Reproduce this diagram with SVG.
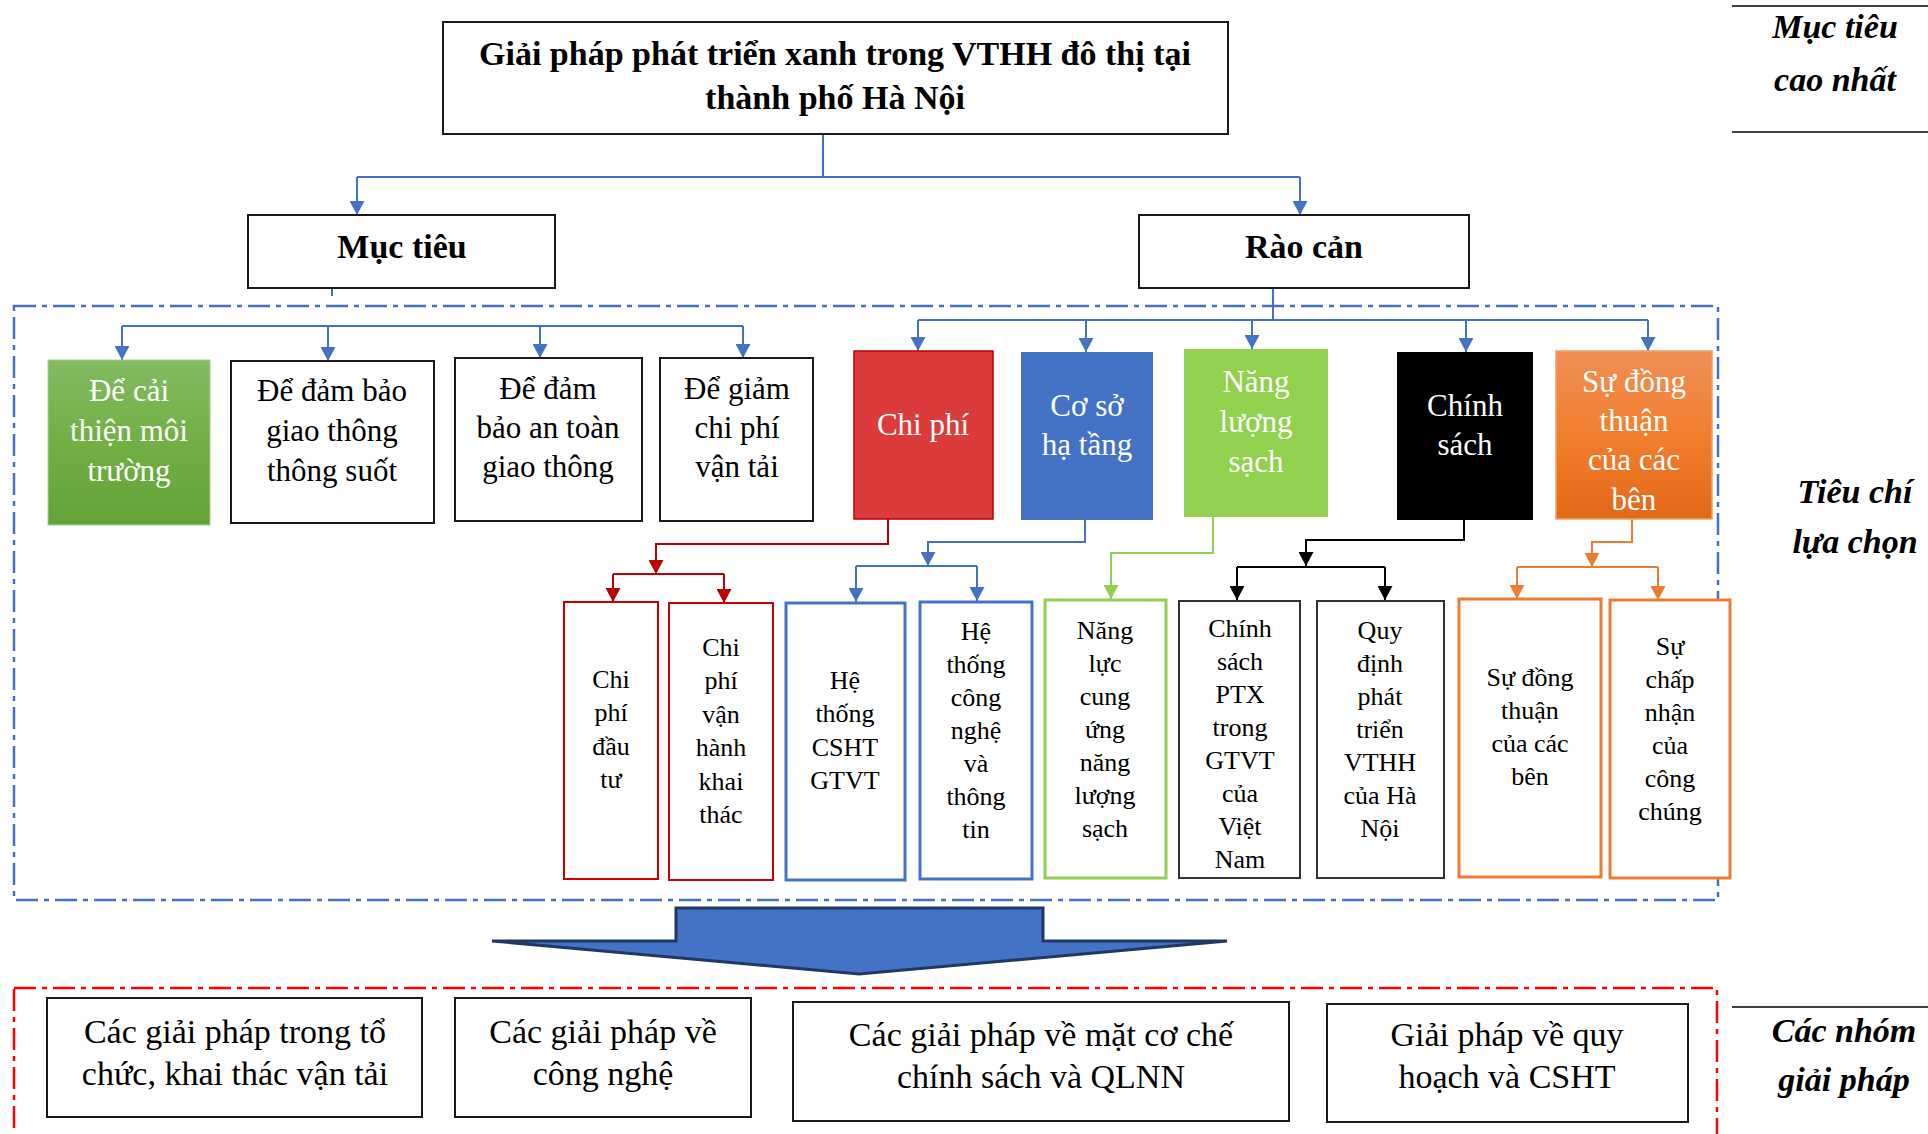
<svg xmlns="http://www.w3.org/2000/svg" width="1928" height="1134" viewBox="0 0 1928 1134">
<defs>
<style>
text{font-family:"Liberation Serif","Times New Roman",serif;text-anchor:middle;fill:#000}
.t34b{font-size:34px;font-weight:bold}
.lab{font-size:34px;font-weight:bold;font-style:italic}
.t31{font-size:31px}
.t26{font-size:26px}
.t34{font-size:34px}
.w{fill:#fff}
.box{fill:#fff;stroke:#1a1a1a;stroke-width:2}
.bb{fill:#fff;stroke:#4472C4;stroke-width:3}
.rb{fill:#fff;stroke:#CC0000;stroke-width:2}
.gb{fill:#fff;stroke:#92D050;stroke-width:3}
.kb{fill:#fff;stroke:#333;stroke-width:2}
.ob{fill:#fff;stroke:#ED7D31;stroke-width:3}
.c{fill:none;stroke-width:2}
.cB{stroke:#4472C4}
.cR{stroke:#C00000}
.cG{stroke:#92D050}
.cK{stroke:#000}
.cO{stroke:#ED7D31}
.rule{stroke:#000;stroke-width:1.5}
</style>
<linearGradient id="grG" x1="0" y1="0" x2="0" y2="1"><stop offset="0" stop-color="#82BB61"/><stop offset="0.5" stop-color="#72AF45"/><stop offset="1" stop-color="#63A337"/></linearGradient>
<linearGradient id="grO" x1="0" y1="0" x2="0" y2="1"><stop offset="0" stop-color="#F08F56"/><stop offset="0.5" stop-color="#F27F2E"/><stop offset="1" stop-color="#E2691A"/></linearGradient>
<marker id="aB" viewBox="0 0 14 15" refX="14" refY="7.5" markerWidth="14" markerHeight="15" markerUnits="userSpaceOnUse" orient="auto"><path d="M0,0 L14,7.5 L0,15 z" fill="#4472C4"/></marker>
<marker id="aR" viewBox="0 0 14 15" refX="14" refY="7.5" markerWidth="14" markerHeight="15" markerUnits="userSpaceOnUse" orient="auto"><path d="M0,0 L14,7.5 L0,15 z" fill="#C00000"/></marker>
<marker id="aG" viewBox="0 0 14 15" refX="14" refY="7.5" markerWidth="14" markerHeight="15" markerUnits="userSpaceOnUse" orient="auto"><path d="M0,0 L14,7.5 L0,15 z" fill="#92D050"/></marker>
<marker id="aK" viewBox="0 0 14 15" refX="14" refY="7.5" markerWidth="14" markerHeight="15" markerUnits="userSpaceOnUse" orient="auto"><path d="M0,0 L14,7.5 L0,15 z" fill="#000"/></marker>
<marker id="aO" viewBox="0 0 14 15" refX="14" refY="7.5" markerWidth="14" markerHeight="15" markerUnits="userSpaceOnUse" orient="auto"><path d="M0,0 L14,7.5 L0,15 z" fill="#ED7D31"/></marker>
</defs>
<rect x="0" y="0" width="1928" height="1134" fill="#fff"/>

<!-- region borders -->
<rect id="region-criteria" x="14" y="306" width="1704" height="594" fill="none" stroke="#4472C4" stroke-width="2.5" stroke-dasharray="22 6 5 6"/>
<rect id="region-solutions" x="14" y="988" width="1703" height="200" fill="none" stroke="#FF0000" stroke-width="2.5" stroke-dasharray="22 6 5 6"/>

<!-- side labels -->
<g id="side-labels">
<line class="rule" x1="1732" y1="6" x2="1928" y2="6"/>
<line class="rule" x1="1732" y1="132" x2="1928" y2="132"/>
<text class="lab" x="1835" y="38">Mục tiêu</text>
<text class="lab" x="1835" y="91">cao nhất</text>
<text class="lab" x="1855" y="503">Tiêu chí</text>
<text class="lab" x="1855" y="553">lựa chọn</text>
<line class="rule" x1="1732" y1="1007" x2="1928" y2="1007"/>
<text class="lab" x="1844" y="1042">Các nhóm</text>
<text class="lab" x="1844" y="1091">giải pháp</text>
</g>

<!-- connectors -->
<g id="connectors">
<path class="c cB" d="M823,134 V177 M357,177 H1300"/>
<path class="c cB" d="M357,177 V215" marker-end="url(#aB)"/>
<path class="c cB" d="M1300,177 V215" marker-end="url(#aB)"/>
<path class="c cB" d="M332,288 V296 M122,326 H743"/>
<path class="c cB" d="M122,326 V360" marker-end="url(#aB)"/>
<path class="c cB" d="M328,326 V361" marker-end="url(#aB)"/>
<path class="c cB" d="M540,326 V358" marker-end="url(#aB)"/>
<path class="c cB" d="M743,326 V358" marker-end="url(#aB)"/>
<path class="c cB" d="M1273,288 V320 M918,320 H1648"/>
<path class="c cB" d="M918,320 V351" marker-end="url(#aB)"/>
<path class="c cB" d="M1086,320 V352" marker-end="url(#aB)"/>
<path class="c cB" d="M1252,320 V349" marker-end="url(#aB)"/>
<path class="c cB" d="M1466,320 V352" marker-end="url(#aB)"/>
<path class="c cB" d="M1648,320 V351" marker-end="url(#aB)"/>
<path class="c cR" d="M888,519 V544 H656 V574" marker-end="url(#aR)"/>
<path class="c cR" d="M613,574 H724"/>
<path class="c cR" d="M613,574 V602" marker-end="url(#aR)"/>
<path class="c cR" d="M724,574 V603" marker-end="url(#aR)"/>
<path class="c cB" d="M1085,520 V542 H928 V566" marker-end="url(#aB)"/>
<path class="c cB" d="M856,566 H977"/>
<path class="c cB" d="M856,566 V602" marker-end="url(#aB)"/>
<path class="c cB" d="M977,566 V601" marker-end="url(#aB)"/>
<path class="c cG" d="M1213,517 V553 H1111 V599" marker-end="url(#aG)"/>
<path class="c cK" d="M1464,520 V540 H1306 V566" marker-end="url(#aK)"/>
<path class="c cK" d="M1237,567 H1385"/>
<path class="c cK" d="M1237,567 V600" marker-end="url(#aK)"/>
<path class="c cK" d="M1385,567 V600" marker-end="url(#aK)"/>
<path class="c cO" d="M1632,519 V542 H1592 V567" marker-end="url(#aO)"/>
<path class="c cO" d="M1517,567 H1658"/>
<path class="c cO" d="M1517,567 V599" marker-end="url(#aO)"/>
<path class="c cO" d="M1658,567 V600" marker-end="url(#aO)"/>
</g>

<!-- top -->
<g id="n-title">
<rect class="box" x="443" y="22" width="785" height="112"/>
<text class="t34b" x="835" y="65">Giải pháp phát triển xanh trong VTHH đô thị tại</text>
<text class="t34b" x="835" y="109">thành phố Hà Nội</text>
</g>
<g id="n-muctieu">
<rect class="box" x="248" y="215" width="307" height="73"/>
<text class="t34b" x="402" y="258">Mục tiêu</text>
</g>
<g id="n-raocan">
<rect class="box" x="1139" y="215" width="330" height="73"/>
<text class="t34b" x="1304" y="258">Rào cản</text>
</g>

<!-- objectives -->
<g id="n-mt1">
<rect x="48" y="360" width="162" height="165" fill="url(#grG)" stroke="#A9D18E" stroke-width="1"/>
<text class="t31 w" x="129" y="401">Để cải</text>
<text class="t31 w" x="129" y="441">thiện môi</text>
<text class="t31 w" x="129" y="481">trường</text>
</g>
<g id="n-mt2">
<rect class="box" x="231" y="361" width="203" height="162"/>
<text class="t31" x="332" y="401">Để đảm bảo</text>
<text class="t31" x="332" y="441">giao thông</text>
<text class="t31" x="332" y="481">thông suốt</text>
</g>
<g id="n-mt3">
<rect class="box" x="455" y="358" width="187" height="163"/>
<text class="t31" x="548" y="399">Để đảm</text>
<text class="t31" x="548" y="438">bảo an toàn</text>
<text class="t31" x="548" y="477">giao thông</text>
</g>
<g id="n-mt4">
<rect class="box" x="660" y="358" width="153" height="163"/>
<text class="t31" x="737" y="399">Để giảm</text>
<text class="t31" x="737" y="438">chi phí</text>
<text class="t31" x="737" y="477">vận tải</text>
</g>

<!-- barriers -->
<g id="n-chiphi">
<rect x="854" y="351" width="139" height="168" fill="#DC3B3B" stroke="#C00000" stroke-width="1.5"/>
<text class="t31 w" x="923" y="435">Chi phí</text>
</g>
<g id="n-coso">
<rect x="1021" y="352" width="132" height="168" fill="#4472C4"/>
<text class="t31 w" x="1087" y="416">Cơ sở</text>
<text class="t31 w" x="1087" y="455">hạ tầng</text>
</g>
<g id="n-nangluong">
<rect x="1184" y="349" width="144" height="168" fill="#92D050"/>
<text class="t31 w" x="1256" y="392">Năng</text>
<text class="t31 w" x="1256" y="432">lượng</text>
<text class="t31 w" x="1256" y="472">sạch</text>
</g>
<g id="n-chinhsach">
<rect x="1397" y="352" width="136" height="168" fill="#000"/>
<text class="t31 w" x="1465" y="416">Chính</text>
<text class="t31 w" x="1465" y="455">sách</text>
</g>
<g id="n-dongthuan">
<rect x="1556" y="351" width="156" height="168" fill="url(#grO)" stroke="#F4A06A" stroke-width="1.5"/>
<text class="t31 w" x="1634" y="392">Sự đồng</text>
<text class="t31 w" x="1634" y="431">thuận</text>
<text class="t31 w" x="1634" y="470">của các</text>
<text class="t31 w" x="1634" y="510">bên</text>
</g>

<!-- sub-criteria -->
<g id="n-cp1">
<rect class="rb" x="564" y="602" width="94" height="277"/>
<text class="t26" x="611" y="688">Chi</text>
<text class="t26" x="611" y="721">phí</text>
<text class="t26" x="611" y="755">đầu</text>
<text class="t26" x="611" y="788">tư</text>
</g>
<g id="n-cp2">
<rect class="rb" x="669" y="603" width="104" height="277"/>
<text class="t26" x="721" y="656">Chi</text>
<text class="t26" x="721" y="689">phí</text>
<text class="t26" x="721" y="723">vận</text>
<text class="t26" x="721" y="756">hành</text>
<text class="t26" x="721" y="790">khai</text>
<text class="t26" x="721" y="823">thác</text>
</g>
<g id="n-hs1">
<rect class="bb" x="786" y="603" width="119" height="277"/>
<text class="t26" x="845" y="689">Hệ</text>
<text class="t26" x="845" y="722">thống</text>
<text class="t26" x="845" y="756">CSHT</text>
<text class="t26" x="845" y="789">GTVT</text>
</g>
<g id="n-hs2">
<rect class="bb" x="920" y="602" width="112" height="277"/>
<text class="t26" x="976" y="640">Hệ</text>
<text class="t26" x="976" y="673">thống</text>
<text class="t26" x="976" y="706">công</text>
<text class="t26" x="976" y="739">nghệ</text>
<text class="t26" x="976" y="772">và</text>
<text class="t26" x="976" y="805">thông</text>
<text class="t26" x="976" y="838">tin</text>
</g>
<g id="n-nl1">
<rect class="gb" x="1045" y="600" width="121" height="278"/>
<text class="t26" x="1105" y="639">Năng</text>
<text class="t26" x="1105" y="672">lực</text>
<text class="t26" x="1105" y="705">cung</text>
<text class="t26" x="1105" y="738">ứng</text>
<text class="t26" x="1105" y="771">năng</text>
<text class="t26" x="1105" y="804">lượng</text>
<text class="t26" x="1105" y="837">sạch</text>
</g>
<g id="n-cs1">
<rect class="kb" x="1179" y="601" width="121" height="277"/>
<text class="t26" x="1240" y="637">Chính</text>
<text class="t26" x="1240" y="670">sách</text>
<text class="t26" x="1240" y="703">PTX</text>
<text class="t26" x="1240" y="736">trong</text>
<text class="t26" x="1240" y="769">GTVT</text>
<text class="t26" x="1240" y="802">của</text>
<text class="t26" x="1240" y="835">Việt</text>
<text class="t26" x="1240" y="868">Nam</text>
</g>
<g id="n-cs2">
<rect class="kb" x="1317" y="601" width="127" height="277"/>
<text class="t26" x="1380" y="639">Quy</text>
<text class="t26" x="1380" y="672">định</text>
<text class="t26" x="1380" y="705">phát</text>
<text class="t26" x="1380" y="738">triển</text>
<text class="t26" x="1380" y="771">VTHH</text>
<text class="t26" x="1380" y="804">của Hà</text>
<text class="t26" x="1380" y="837">Nội</text>
</g>
<g id="n-dt1">
<rect class="ob" x="1459" y="599" width="142" height="278"/>
<text class="t26" x="1530" y="686">Sự đồng</text>
<text class="t26" x="1530" y="719">thuận</text>
<text class="t26" x="1530" y="752">của các</text>
<text class="t26" x="1530" y="785">bên</text>
</g>
<g id="n-dt2">
<rect class="ob" x="1610" y="600" width="120" height="278"/>
<text class="t26" x="1670" y="655">Sự</text>
<text class="t26" x="1670" y="688">chấp</text>
<text class="t26" x="1670" y="721">nhận</text>
<text class="t26" x="1670" y="754">của</text>
<text class="t26" x="1670" y="787">công</text>
<text class="t26" x="1670" y="820">chúng</text>
</g>

<!-- big arrow -->
<g id="big-arrow">
<polygon points="676,908 1043,908 1043,941 1227,941 859,974 492,941 676,941" fill="#4472C4" stroke="#203864" stroke-width="3" stroke-linejoin="miter"/>
</g>

<!-- solutions -->
<g id="n-gp1">
<rect class="box" x="47" y="998" width="375" height="119"/>
<text class="t34" x="235" y="1043">Các giải pháp trong tổ</text>
<text class="t34" x="235" y="1085">chức, khai thác vận tải</text>
</g>
<g id="n-gp2">
<rect class="box" x="455" y="998" width="296" height="119"/>
<text class="t34" x="603" y="1043">Các giải pháp về</text>
<text class="t34" x="603" y="1085">công nghệ</text>
</g>
<g id="n-gp3">
<rect class="box" x="793" y="1002" width="496" height="119"/>
<text class="t34" x="1041" y="1046">Các giải pháp về mặt cơ chế</text>
<text class="t34" x="1041" y="1088">chính sách và QLNN</text>
</g>
<g id="n-gp4">
<rect class="box" x="1327" y="1004" width="361" height="118"/>
<text class="t34" x="1507" y="1046">Giải pháp về quy</text>
<text class="t34" x="1507" y="1088">hoạch và CSHT</text>
</g>
</svg>
